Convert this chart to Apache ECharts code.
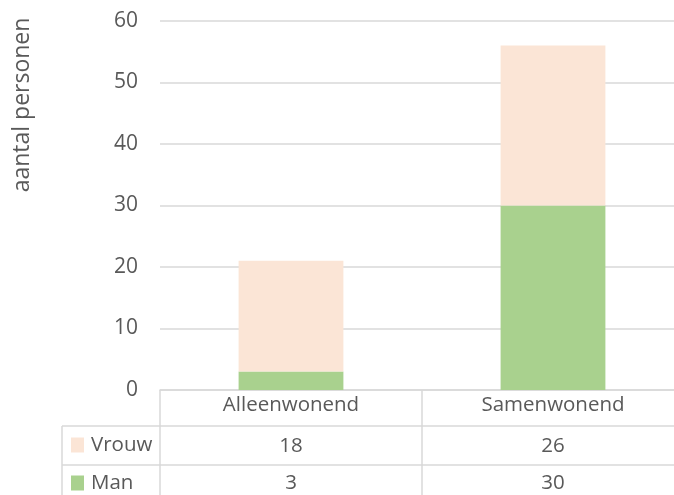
<!DOCTYPE html>
<html>
<head>
<meta charset="utf-8">
<script src="https://cdn.jsdelivr.net/npm/echarts@6/dist/echarts.min.js"></script>
<style>html,body{margin:0;padding:0;background:#fff;overflow:hidden}#c{width:684px;height:495px}</style>
</head>
<body>
<div id="c"></div>
<script>
const categories = ['Alleenwonend', 'Samenwonend'];
const seriesNames = ['Vrouw', 'Man'];
const vrouw = [18, 26];
const man = [3, 30];
const yTicks = [0, 10, 20, 30, 40, 50, 60];
const yTitle = 'aantal personen';

const FONT = '"Open Sans"';
const TXT = '#595959';
const LINE = '#d9d9d9';
const C_VROUW = '#fbe5d6';
const C_MAN = '#a9d18e';
const FS = 20.5;

const chart = echarts.init(document.getElementById('c'), null, {renderer: 'canvas'});

function rowAxis(values, offset, margin) {
  return {
    type: 'category', data: categories, position: 'bottom', offset: offset,
    axisLine: {show: true, lineStyle: {color: LINE, width: 1.5}},
    axisTick: {show: false},
    axisLabel: {margin: margin, color: TXT, fontFamily: FONT, fontSize: FS,
      formatter: (v, i) => String(values[i])}
  };
}

function legendFor(name, top) {
  return {
    data: [name], left: 71, top: top, padding: 0,
    itemWidth: 13, itemHeight: 15, icon: 'rect',
    textStyle: {color: TXT, fontFamily: FONT, fontSize: FS, lineHeight: 24, padding: [0, 0, 0, 2]},
    selectedMode: false
  };
}

chart.setOption({
  animation: false,
  grid: {left: 160, top: 21, right: 0, bottom: 105, containLabel: false},
  legend: [legendFor(seriesNames[0], 433), legendFor(seriesNames[1], 471)],
  xAxis: [
    {
      type: 'category', data: categories, position: 'bottom',
      axisLine: {show: true, lineStyle: {color: LINE, width: 1.5}},
      axisTick: {show: true, length: 106, lineStyle: {color: LINE, width: 1.5}},
      axisLabel: {margin: 5, color: TXT, fontFamily: FONT, fontSize: FS}
    },
    rowAxis(vrouw, 36, 10),
    rowAxis(man, 75, 8)
  ],
  yAxis: {
    type: 'value', min: 0, max: 60, interval: 10,
    axisLine: {show: false}, axisTick: {show: false},
    splitLine: {lineStyle: {color: LINE, width: 1.5}},
    axisLabel: {margin: 22, color: TXT, fontFamily: FONT, fontSize: 21,
      formatter: v => yTicks.includes(v) ? String(v) : ''}
  },
  series: [
    {name: 'Man', type: 'bar', stack: 'a', data: man, barWidth: '40%',
      itemStyle: {color: C_MAN}},
    {name: 'Vrouw', type: 'bar', stack: 'a', data: vrouw, barWidth: '40%',
      itemStyle: {color: C_VROUW}}
  ],
  graphic: [
    {type: 'text', x: 22, y: 105, rotation: Math.PI / 2,
      style: {text: yTitle, fill: TXT, font: '23px ' + FONT, align: 'center', verticalAlign: 'middle'}},
    {type: 'line', shape: {x1: 62, y1: 426, x2: 160, y2: 426}, style: {stroke: LINE, lineWidth: 1.5}},
    {type: 'line', shape: {x1: 62, y1: 465, x2: 160, y2: 465}, style: {stroke: LINE, lineWidth: 1.5}},
    {type: 'line', shape: {x1: 62, y1: 426, x2: 62, y2: 495}, style: {stroke: LINE, lineWidth: 1.5}}
  ]
});
</script>
</body>
</html>
